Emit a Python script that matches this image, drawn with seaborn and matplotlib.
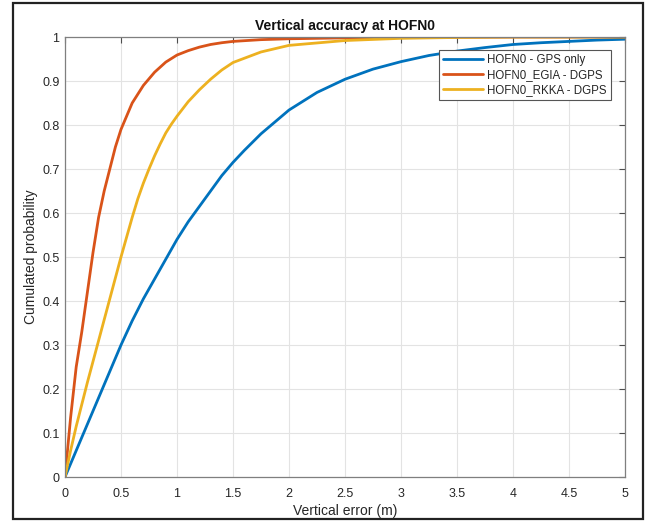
import matplotlib
matplotlib.use("Agg")
import matplotlib.pyplot as plt
import numpy as np
import pandas as pd
import seaborn as sns
from matplotlib.patches import Rectangle

gps_x = [0, 0.1, 0.2, 0.3, 0.4, 0.5, 0.6, 0.7, 0.8, 0.9, 1.0, 1.1, 1.2, 1.3, 1.4, 1.5,
         1.6, 1.75, 2.0, 2.25, 2.5, 2.75, 3.0, 3.25, 3.5, 3.75, 4.0, 4.25, 4.5, 4.75, 5.0]
gps_y = [0, 0.06, 0.12, 0.18, 0.24, 0.30, 0.355, 0.405, 0.45, 0.495, 0.54, 0.58, 0.615, 0.65,
         0.685, 0.715, 0.742, 0.78, 0.834, 0.874, 0.904, 0.927, 0.944, 0.958, 0.968, 0.976,
         0.983, 0.987, 0.99, 0.993, 0.995]

egia_x = [0, 0.05, 0.1, 0.15, 0.2, 0.25, 0.3, 0.35, 0.4, 0.45, 0.5, 0.6, 0.7, 0.8, 0.9, 1.0,
          1.1, 1.2, 1.3, 1.4, 1.5, 1.75, 2.0, 2.5, 3.0, 4.0, 5.0]
egia_y = [0, 0.135, 0.25, 0.33, 0.42, 0.51, 0.59, 0.65, 0.70, 0.75, 0.79, 0.85, 0.89, 0.92,
          0.943, 0.959, 0.969, 0.977, 0.983, 0.987, 0.990, 0.994, 0.996, 0.998, 0.999, 1.0, 1.0]

rkka_x = [0, 0.05, 0.1, 0.2, 0.3, 0.4, 0.5, 0.6, 0.65, 0.7, 0.75, 0.8, 0.85, 0.9, 0.95, 1.0,
          1.1, 1.2, 1.3, 1.4, 1.5, 1.75, 2.0, 2.5, 3.0, 3.5, 4.0, 5.0]
rkka_y = [0, 0.06, 0.115, 0.215, 0.31, 0.405, 0.50, 0.59, 0.632, 0.668, 0.70, 0.73, 0.757,
          0.782, 0.802, 0.82, 0.853, 0.88, 0.904, 0.925, 0.942, 0.966, 0.981, 0.992, 0.997,
          0.999, 1.0, 1.0]

series_names = ["HOFN0 - GPS only", "HOFN0_EGIA - DGPS", "HOFN0_RKKA - DGPS"]
series_colors = ["#0072BD", "#D95319", "#EDB120"]

x_ticks = [0, 0.5, 1, 1.5, 2, 2.5, 3, 3.5, 4, 4.5, 5]
x_tick_labels = ["0", "0.5", "1", "1.5", "2", "2.5", "3", "3.5", "4", "4.5", "5"]
y_ticks = [0, 0.1, 0.2, 0.3, 0.4, 0.5, 0.6, 0.7, 0.8, 0.9, 1]
y_tick_labels = ["0", "0.1", "0.2", "0.3", "0.4", "0.5", "0.6", "0.7", "0.8", "0.9", "1"]

df = pd.concat([
    pd.DataFrame({"error": gps_x, "prob": gps_y, "series": series_names[0]}),
    pd.DataFrame({"error": egia_x, "prob": egia_y, "series": series_names[1]}),
    pd.DataFrame({"error": rkka_x, "prob": rkka_y, "series": series_names[2]}),
], ignore_index=True)

sns.set_theme(style="white")
plt.rcParams["font.family"] = ["Liberation Sans", "DejaVu Sans"]

fig = plt.figure(figsize=(6.48, 5.22), dpi=100)
ax = fig.add_axes([0.1003, 0.0862, 0.8642, 0.8429])

sns.lineplot(data=df, x="error", y="prob", hue="series", hue_order=series_names,
             palette=series_colors, linewidth=2, sort=False, estimator=None, ax=ax)

ax.set_xlim(0, 5)
ax.set_ylim(0, 1)
ax.set_xticks(x_ticks)
ax.set_xticklabels(x_tick_labels)
ax.set_yticks(y_ticks)
ax.set_yticklabels(y_tick_labels)
ax.grid(True, color="#e3e3e3", linewidth=0.8)
ax.tick_params(direction="in", top=True, right=True, length=4, width=0.8,
               colors="#4d4d4d", labelsize=9, labelcolor="#262626")
ax.tick_params(axis="x", pad=8)
ax.tick_params(axis="y", pad=4)
for spine in ax.spines.values():
    spine.set_color("#7f7f7f")
    spine.set_linewidth(0.9)

ax.set_xlabel("Vertical error (m)", fontsize=10, color="#262626", labelpad=3)
ax.set_ylabel("Cumulated probability", fontsize=10, color="#262626", labelpad=3)
ax.set_title("Vertical accuracy at HOFN0", fontsize=10, fontweight="bold", color="#111111", pad=5)

leg = ax.legend(loc="upper right", bbox_to_anchor=(0.975, 0.971), borderaxespad=0,
                fancybox=False, framealpha=1, edgecolor="#555555", fontsize=8.3,
                handlelength=3.5, handletextpad=0.35, labelspacing=0.28,
                borderpad=0.35, title=None)
leg.get_frame().set_linewidth(0.8)

# outer frame around the whole figure
fig.patches.append(Rectangle((13 / 648, 3 / 522), 630 / 648, 516 / 522, transform=fig.transFigure,
                             fill=False, edgecolor="#222222", linewidth=1.6))

fig.savefig("out.png", dpi=100)
